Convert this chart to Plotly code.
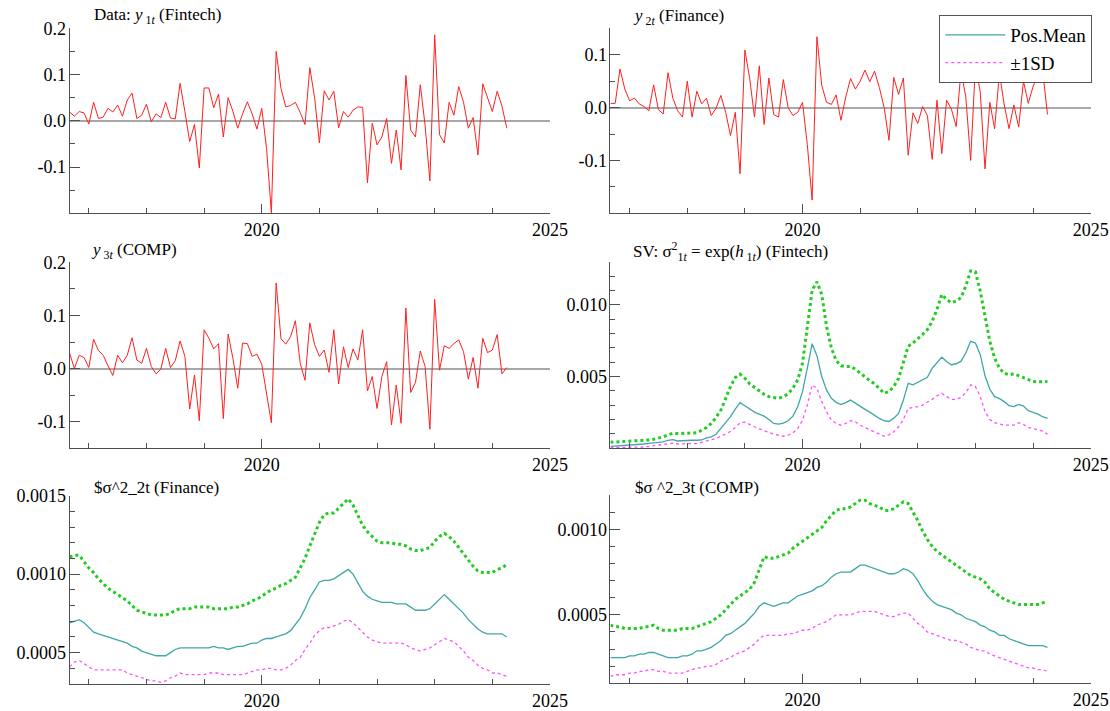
import numpy as np
import pandas as pd
import plotly.graph_objects as go

# ---------------- data (monthly, 2016M9 .. 2024M4) ----------------
months = pd.period_range("2016-09", "2024-04", freq="M")
t = [p.year + (p.month - 1) / 12 for p in months]

y1_fintech = [0.019, 0.010, 0.020, 0.017, -0.007, 0.040, 0.005, 0.008, 0.027, 0.019,
              0.034, 0.010, 0.045, 0.060, 0.005, 0.012, 0.036, -0.002, 0.015, 0.007,
              0.040, 0.006, 0.004, 0.081, 0.020, -0.045, -0.008, -0.102, 0.071, 0.071,
              0.028, 0.058, -0.035, 0.050, 0.020, -0.016, 0.015, 0.041, 0.015, -0.018,
              0.027, -0.060, -0.199, 0.150, 0.070, 0.030, 0.033, 0.040, 0.018, -0.008,
              0.115, 0.050, -0.048, 0.065, 0.045, 0.064, -0.015, 0.020, 0.008, 0.023,
              0.030, 0.029, -0.134, -0.005, -0.052, -0.035, 0.005, -0.092, -0.020, -0.106,
              0.098, -0.020, -0.035, 0.078, -0.010, -0.130, 0.186, -0.030, -0.048, 0.040,
              0.012, 0.074, 0.040, -0.016, 0.007, -0.074, 0.080, 0.052, 0.020, 0.064,
              0.032, -0.016]

y2_finance = [0.008, 0.008, 0.073, 0.035, 0.013, 0.018, 0.007, 0.002, -0.006, 0.043,
              -0.004, -0.012, 0.066, 0.018, -0.006, -0.018, 0.050, -0.018, 0.031, 0.007,
              0.018, -0.015, -0.001, 0.023, -0.009, -0.053, -0.009, -0.125, 0.109, 0.055,
              -0.018, 0.079, -0.032, 0.056, -0.013, -0.018, 0.053, 0.000, -0.015, -0.009,
              0.010, -0.070, -0.175, 0.134, 0.042, 0.010, 0.006, 0.024, -0.024, 0.020,
              0.055, 0.035, 0.050, 0.071, 0.049, 0.069, 0.038, 0.000, -0.062, 0.057,
              0.025, 0.056, -0.090, -0.010, -0.030, 0.002, -0.015, -0.098, 0.014, -0.087,
              0.014, -0.003, -0.036, 0.070, 0.020, -0.100, 0.080, 0.030, -0.116, 0.010,
              -0.040, 0.065, 0.005, -0.040, 0.005, -0.037, 0.050, 0.008, 0.040, 0.060,
              0.070, -0.013]

y3_comp = [0.029, 0.000, 0.025, 0.021, 0.002, 0.055, 0.034, 0.025, 0.005, -0.013,
           0.025, 0.011, 0.025, 0.058, 0.016, 0.010, 0.038, 0.004, -0.010, -0.001,
           0.038, 0.002, 0.015, 0.052, 0.023, -0.076, -0.012, -0.098, 0.073, 0.057,
           0.037, 0.047, -0.094, 0.065, 0.019, -0.037, 0.048, 0.047, 0.023, 0.027,
           0.008, -0.047, -0.102, 0.161, 0.056, 0.046, 0.060, 0.090, 0.010, -0.022,
           0.086, 0.045, 0.023, 0.035, -0.007, 0.073, -0.029, 0.041, 0.002, 0.037,
           0.016, 0.073, -0.042, -0.015, -0.075, -0.015, 0.013, -0.106, -0.031, -0.103,
           0.114, -0.045, -0.026, 0.033, 0.004, -0.114, 0.130, -0.003, 0.043, 0.038,
           0.047, 0.054, 0.032, -0.020, 0.021, -0.037, 0.057, 0.030, 0.035, 0.064,
           -0.010, 0.002]

sv1_mean = [0.00014, 0.00016, 0.00019, 0.00021, 0.00021, 0.00023, 0.00026, 0.00030, 0.00035, 0.00037,
            0.00040, 0.00044, 0.00056, 0.00061, 0.00051, 0.00054, 0.00056, 0.00056, 0.00056, 0.00058,
            0.00073, 0.00080, 0.00098, 0.00138, 0.00178, 0.00220, 0.00273, 0.00318, 0.00297, 0.00273,
            0.00252, 0.00238, 0.00224, 0.00201, 0.00173, 0.00168, 0.00175, 0.00192, 0.00224, 0.00290,
            0.00395, 0.00558, 0.00729, 0.00645, 0.00500, 0.00407, 0.00348, 0.00320, 0.00304, 0.00318,
            0.00336, 0.00315, 0.00290, 0.00271, 0.00252, 0.00229, 0.00208, 0.00192, 0.00187, 0.00210,
            0.00243, 0.00336, 0.00453, 0.00442, 0.00460, 0.00477, 0.00495, 0.00558, 0.00598, 0.00635,
            0.00605, 0.00582, 0.00589, 0.00607, 0.00664, 0.00745, 0.00734, 0.00652, 0.00505, 0.00411,
            0.00360, 0.00346, 0.00325, 0.00297, 0.00290, 0.00306, 0.00294, 0.00262, 0.00250, 0.00238,
            0.00220, 0.00208]
sv1_upper = [0.00042, 0.00044, 0.00044, 0.00047, 0.00049, 0.00049, 0.00051, 0.00054, 0.00058, 0.00063,
             0.00070, 0.00080, 0.00094, 0.00105, 0.00103, 0.00105, 0.00105, 0.00108, 0.00108, 0.00126,
             0.00145, 0.00173, 0.00215, 0.00266, 0.00348, 0.00430, 0.00493, 0.00516, 0.00488, 0.00449,
             0.00425, 0.00402, 0.00376, 0.00360, 0.00353, 0.00348, 0.00360, 0.00379, 0.00418, 0.00477,
             0.00593, 0.00862, 0.01100, 0.01160, 0.01072, 0.00850, 0.00699, 0.00612, 0.00575, 0.00570,
             0.00570, 0.00551, 0.00523, 0.00500, 0.00472, 0.00449, 0.00418, 0.00383, 0.00395, 0.00430,
             0.00488, 0.00593, 0.00710, 0.00734, 0.00762, 0.00794, 0.00827, 0.00885, 0.00967, 0.01072,
             0.01037, 0.01014, 0.01026, 0.01049, 0.01131, 0.01236, 0.01229, 0.01096, 0.00920, 0.00745,
             0.00628, 0.00558, 0.00523, 0.00512, 0.00519, 0.00505, 0.00495, 0.00477, 0.00465, 0.00463,
             0.00463, 0.00465]
sv1_lower = [0.00005, 0.00005, 0.00007, 0.00007, 0.00007, 0.00009, 0.00009, 0.00009, 0.00014, 0.00019,
             0.00023, 0.00028, 0.00033, 0.00035, 0.00030, 0.00033, 0.00033, 0.00033, 0.00033, 0.00042,
             0.00049, 0.00056, 0.00068, 0.00084, 0.00098, 0.00117, 0.00145, 0.00178, 0.00182, 0.00164,
             0.00150, 0.00136, 0.00122, 0.00110, 0.00098, 0.00091, 0.00084, 0.00091, 0.00108, 0.00138,
             0.00196, 0.00301, 0.00442, 0.00418, 0.00325, 0.00255, 0.00196, 0.00173, 0.00161, 0.00173,
             0.00192, 0.00185, 0.00161, 0.00145, 0.00131, 0.00115, 0.00098, 0.00084, 0.00094, 0.00115,
             0.00150, 0.00201, 0.00278, 0.00283, 0.00290, 0.00301, 0.00320, 0.00341, 0.00365, 0.00383,
             0.00360, 0.00341, 0.00341, 0.00355, 0.00388, 0.00442, 0.00430, 0.00360, 0.00255, 0.00201,
             0.00178, 0.00168, 0.00161, 0.00161, 0.00161, 0.00178, 0.00166, 0.00145, 0.00138, 0.00131,
             0.00119, 0.00098]

sv2_mean = [0.00069, 0.00070, 0.00071, 0.00069, 0.00066, 0.00063, 0.00062, 0.00061, 0.00060, 0.00059,
            0.00058, 0.00057, 0.00056, 0.00054, 0.00053, 0.00051, 0.00050, 0.00049, 0.00048, 0.00048,
            0.00048, 0.00050, 0.00052, 0.00053, 0.00053, 0.00053, 0.00053, 0.00053, 0.00053, 0.00053,
            0.00054, 0.00053, 0.00053, 0.00052, 0.00053, 0.00054, 0.00054, 0.00055, 0.00056, 0.00056,
            0.00058, 0.00059, 0.00059, 0.00060, 0.00061, 0.00062, 0.00064, 0.00068, 0.00072, 0.00078,
            0.00085, 0.00090, 0.00095, 0.00096, 0.00096, 0.00097, 0.00099, 0.00101, 0.00103, 0.00100,
            0.00094, 0.00089, 0.00086, 0.00084, 0.00083, 0.00082, 0.00082, 0.00082, 0.00081, 0.00081,
            0.00081, 0.00079, 0.00077, 0.00077, 0.00077, 0.00078, 0.00081, 0.00084, 0.00087, 0.00084,
            0.00081, 0.00078, 0.00075, 0.00071, 0.00068, 0.00065, 0.00063, 0.00062, 0.00062, 0.00062,
            0.00062, 0.00060]
sv2_upper = [0.00111, 0.00112, 0.00112, 0.00108, 0.00104, 0.00101, 0.00097, 0.00094, 0.00091, 0.00089,
             0.00087, 0.00085, 0.00083, 0.00080, 0.00077, 0.00076, 0.00075, 0.00074, 0.00074, 0.00074,
             0.00074, 0.00075, 0.00077, 0.00078, 0.00078, 0.00078, 0.00079, 0.00079, 0.00079, 0.00079,
             0.00078, 0.00078, 0.00078, 0.00078, 0.00079, 0.00079, 0.00080, 0.00081, 0.00083, 0.00084,
             0.00086, 0.00088, 0.00090, 0.00091, 0.00093, 0.00094, 0.00096, 0.00098, 0.00104, 0.00110,
             0.00118, 0.00126, 0.00133, 0.00138, 0.00139, 0.00139, 0.00142, 0.00145, 0.00148, 0.00144,
             0.00137, 0.00131, 0.00127, 0.00124, 0.00121, 0.00120, 0.00120, 0.00120, 0.00119, 0.00119,
             0.00118, 0.00116, 0.00115, 0.00115, 0.00116, 0.00117, 0.00121, 0.00124, 0.00126, 0.00124,
             0.00121, 0.00117, 0.00113, 0.00109, 0.00105, 0.00102, 0.00101, 0.00101, 0.00101, 0.00103,
             0.00104, 0.00106]
sv2_lower = [0.00041, 0.00044, 0.00045, 0.00043, 0.00041, 0.00039, 0.00039, 0.00039, 0.00039, 0.00039,
             0.00039, 0.00039, 0.00037, 0.00036, 0.00035, 0.00034, 0.00033, 0.00032, 0.00032, 0.00031,
             0.00032, 0.00034, 0.00035, 0.00037, 0.00036, 0.00036, 0.00036, 0.00036, 0.00036, 0.00037,
             0.00037, 0.00037, 0.00036, 0.00036, 0.00036, 0.00036, 0.00036, 0.00037, 0.00038, 0.00039,
             0.00039, 0.00040, 0.00040, 0.00039, 0.00039, 0.00040, 0.00042, 0.00045, 0.00047, 0.00052,
             0.00056, 0.00061, 0.00064, 0.00066, 0.00066, 0.00067, 0.00068, 0.00070, 0.00071, 0.00069,
             0.00066, 0.00063, 0.00060, 0.00058, 0.00057, 0.00056, 0.00056, 0.00056, 0.00056, 0.00056,
             0.00055, 0.00053, 0.00052, 0.00051, 0.00052, 0.00053, 0.00055, 0.00057, 0.00059, 0.00058,
             0.00057, 0.00054, 0.00051, 0.00047, 0.00045, 0.00042, 0.00040, 0.00039, 0.00037, 0.00037,
             0.00036, 0.00035]

sv3_mean = [0.00025, 0.00025, 0.00025, 0.00025, 0.00026, 0.00026, 0.00027, 0.00027, 0.00028, 0.00028,
            0.00027, 0.00026, 0.00025, 0.00025, 0.00025, 0.00026, 0.00026, 0.00027, 0.00029, 0.00029,
            0.00030, 0.00031, 0.00033, 0.00035, 0.00038, 0.00039, 0.00041, 0.00043, 0.00045, 0.00048,
            0.00051, 0.00055, 0.00057, 0.00056, 0.00055, 0.00056, 0.00057, 0.00057, 0.00059, 0.00061,
            0.00062, 0.00063, 0.00064, 0.00066, 0.00067, 0.00069, 0.00072, 0.00074, 0.00075, 0.00075,
            0.00075, 0.00077, 0.00079, 0.00079, 0.00078, 0.00077, 0.00076, 0.00075, 0.00074, 0.00074,
            0.00075, 0.00077, 0.00076, 0.00074, 0.00070, 0.00065, 0.00061, 0.00058, 0.00056, 0.00055,
            0.00054, 0.00053, 0.00051, 0.00050, 0.00048, 0.00047, 0.00046, 0.00044, 0.00043, 0.00041,
            0.00040, 0.00038, 0.00038, 0.00036, 0.00035, 0.00034, 0.00033, 0.00032, 0.00032, 0.00032,
            0.00032, 0.00031]
sv3_upper = [0.00044, 0.00043, 0.00043, 0.00042, 0.00042, 0.00042, 0.00042, 0.00043, 0.00043, 0.00044,
             0.00042, 0.00041, 0.00041, 0.00041, 0.00041, 0.00042, 0.00042, 0.00042, 0.00043, 0.00044,
             0.00045, 0.00046, 0.00048, 0.00050, 0.00053, 0.00056, 0.00059, 0.00061, 0.00063, 0.00065,
             0.00069, 0.00076, 0.00084, 0.00083, 0.00083, 0.00084, 0.00085, 0.00086, 0.00089, 0.00091,
             0.00093, 0.00095, 0.00097, 0.00099, 0.00101, 0.00105, 0.00108, 0.00111, 0.00112, 0.00112,
             0.00113, 0.00115, 0.00117, 0.00117, 0.00115, 0.00114, 0.00113, 0.00111, 0.00111, 0.00112,
             0.00114, 0.00116, 0.00115, 0.00110, 0.00105, 0.00099, 0.00094, 0.00090, 0.00087, 0.00085,
             0.00083, 0.00081, 0.00079, 0.00077, 0.00075, 0.00073, 0.00072, 0.00071, 0.00069, 0.00065,
             0.00063, 0.00061, 0.00059, 0.00058, 0.00057, 0.00056, 0.00056, 0.00056, 0.00056, 0.00056,
             0.00057, 0.00058]
sv3_lower = [0.00014, 0.00015, 0.00015, 0.00015, 0.00016, 0.00016, 0.00017, 0.00017, 0.00018, 0.00018,
             0.00017, 0.00017, 0.00016, 0.00016, 0.00016, 0.00016, 0.00017, 0.00018, 0.00019, 0.00019,
             0.00020, 0.00020, 0.00021, 0.00023, 0.00024, 0.00025, 0.00027, 0.00028, 0.00029, 0.00031,
             0.00033, 0.00036, 0.00038, 0.00038, 0.00038, 0.00038, 0.00038, 0.00039, 0.00039, 0.00040,
             0.00041, 0.00041, 0.00042, 0.00044, 0.00045, 0.00046, 0.00048, 0.00050, 0.00050, 0.00050,
             0.00050, 0.00051, 0.00052, 0.00052, 0.00052, 0.00052, 0.00051, 0.00050, 0.00049, 0.00049,
             0.00050, 0.00051, 0.00051, 0.00048, 0.00045, 0.00043, 0.00040, 0.00039, 0.00038, 0.00037,
             0.00036, 0.00035, 0.00035, 0.00034, 0.00033, 0.00031, 0.00030, 0.00029, 0.00029, 0.00027,
             0.00026, 0.00025, 0.00024, 0.00023, 0.00022, 0.00021, 0.00020, 0.00019, 0.00019, 0.00018,
             0.00018, 0.00017]

x_ticks = [2020, 2025]
x_minor = [2017, 2018, 2019, 2021, 2022, 2023, 2024]

# ---------------- styling ----------------
W, H = 1110, 711
FONT = "Liberation Serif, Times New Roman, serif"
RED = "#FF1F1F"
TEAL = "#40A6A6"
GREEN = "#22CC22"
MAGENTA = "#FF50FF"
AXIS = "#505050"
ZERO = "#A8A8A8"
LABEL_SHIFT = -3.5  # px offset of the label-only axis relative to the drawn axis line


def xd(a, b):
    return [a / W, b / W]


def yd(top, bottom):
    return [1 - bottom / H, 1 - top / H]


LEFT = xd(69.6, 550.0)
RIGHT = xd(610.4, 1090.7)

panels = [
    # (xdomain, ydomain, yrange, major ticks, tick text, minor ticks, zeroline)
    (LEFT, yd(28.3, 213.3), [-0.2, 0.2], [-0.1, 0.0, 0.1, 0.2], ["-0.1", "0.0", "0.1", "0.2"],
     [-0.15, -0.05, 0.05, 0.15], True),
    (RIGHT, yd(28.3, 213.3), [-0.2, 0.15], [-0.1, 0.0, 0.1], ["-0.1", "0.0", "0.1"],
     [-0.15, -0.05, 0.05], True),
    (LEFT, yd(262.3, 448.3), [-0.15, 0.2], [-0.1, 0.0, 0.1, 0.2], ["-0.1", "0.0", "0.1", "0.2"],
     [-0.05, 0.05, 0.15], True),
    (RIGHT, yd(261.7, 448.3), [0.0, 0.013], [0.005, 0.010], ["0.005", "0.010"],
     [round(v * 0.001, 4) for v in range(1, 14) if v % 5], False),
    (LEFT, yd(495.7, 684.0), [0.0003, 0.0015], [0.0005, 0.0010, 0.0015], ["0.0005", "0.0010", "0.0015"],
     [round(v * 0.0001, 5) for v in range(4, 15) if v % 5], False),
    (RIGHT, yd(495.0, 683.3), [0.0001, 0.0012], [0.0005, 0.0010], ["0.0005", "0.0010"],
     [round(v * 0.0001, 5) for v in range(2, 13) if v % 5], False),
]

fig = go.Figure()

layout = dict(
    width=W, height=H,
    margin=dict(l=0, r=0, t=0, b=0, pad=0, autoexpand=False),
    paper_bgcolor="white", plot_bgcolor="white",
    font=dict(family=FONT, size=18, color="black"),
    showlegend=True,
)

tickfont = dict(family=FONT, size=18, color="black")
for k, (xdom, ydom, yr, tv, tt, mv, zl) in enumerate(panels, start=1):
    sx = "" if k == 1 else str(k)
    layout["xaxis" + sx] = dict(
        domain=xdom, anchor="y" + sx, range=[t[0], 2025.0],
        tickmode="array", tickvals=x_ticks, ticktext=[str(v) for v in x_ticks],
        ticks="inside", ticklen=9, tickwidth=1, tickcolor=AXIS,
        showline=True, linecolor=AXIS, linewidth=1, mirror=False,
        showgrid=False, zeroline=False, tickfont=tickfont, automargin=False,
        minor=dict(tickmode="array", tickvals=x_minor, ticks="inside", ticklen=5,
                   tickwidth=1, tickcolor=AXIS, showgrid=False),
        fixedrange=True,
    )
    # axis line + ticks (labels drawn by the overlaid label axis below)
    layout["yaxis" + sx] = dict(
        domain=ydom, anchor="x" + sx, range=yr,
        tickmode="array", tickvals=tv, showticklabels=False,
        ticks="inside", ticklen=10, tickwidth=1, tickcolor=AXIS,
        showline=True, linecolor=AXIS, linewidth=1,
        showgrid=False, zeroline=zl, zerolinecolor=ZERO, zerolinewidth=1.5,
        automargin=False,
        minor=dict(tickmode="array", tickvals=mv, ticks="inside", ticklen=5,
                   tickwidth=1, tickcolor=AXIS, showgrid=False),
        fixedrange=True,
    )
    # label axis: same scale, placed so labels sit ~5 px left of the axis line
    layout["yaxis" + str(k + 6)] = dict(
        overlaying="y" + sx, anchor="free", position=xdom[0] + LABEL_SHIFT / W,
        range=yr, tickmode="array", tickvals=tv, ticktext=tt,
        ticks="", showline=False, showgrid=False, zeroline=False,
        tickfont=tickfont, automargin=False, fixedrange=True,
    )

# data panels
for k, series in [(1, y1_fintech), (2, y2_finance), (3, y3_comp)]:
    sx = "" if k == 1 else str(k)
    fig.add_trace(go.Scatter(x=t, y=series, mode="lines", xaxis="x" + sx, yaxis="y" + sx,
                             line=dict(color=RED, width=1), showlegend=False))
    fig.add_trace(go.Scatter(x=t, y=series, mode="lines", xaxis="x" + sx, yaxis="y" + str(k + 6),
                             line=dict(color=RED, width=0), opacity=0, showlegend=False,
                             hoverinfo="skip"))

# SV panels
for k, (mean, up, lo) in [(4, (sv1_mean, sv1_upper, sv1_lower)),
                          (5, (sv2_mean, sv2_upper, sv2_lower)),
                          (6, (sv3_mean, sv3_upper, sv3_lower))]:
    sx = str(k)
    first = k == 4
    fig.add_trace(go.Scatter(x=t, y=up, mode="lines", xaxis="x" + sx, yaxis="y" + sx,
                             line=dict(color=GREEN, width=3, dash="dot"), showlegend=False))
    fig.add_trace(go.Scatter(x=t, y=mean, mode="lines", xaxis="x" + sx, yaxis="y" + sx,
                             line=dict(color=TEAL, width=1.3), name="Pos.Mean",
                             showlegend=first, legendrank=1))
    fig.add_trace(go.Scatter(x=t, y=lo, mode="lines", xaxis="x" + sx, yaxis="y" + sx,
                             line=dict(color=MAGENTA, width=1.3, dash="dot"), name="±1SD",
                             showlegend=first, legendrank=2))
    fig.add_trace(go.Scatter(x=t, y=mean, mode="lines", xaxis="x" + sx, yaxis="y" + str(k + 6),
                             line=dict(color=TEAL, width=0), opacity=0, showlegend=False,
                             hoverinfo="skip"))

layout["legend"] = dict(
    x=1092.3 / W, xanchor="right", y=1 - 15 / H, yanchor="top",
    bgcolor="white", bordercolor="#555555", borderwidth=1,
    font=dict(family=FONT, size=19, color="black"),
    itemwidth=60, tracegroupgap=0,
)

titles = [
    (92, 16, "Data: <i>y</i><sub> 1<i>t</i></sub> (Fintech)"),
    (631, 17, "<i>y</i><sub> 2<i>t</i></sub> (Finance)"),
    (89, 251, "<i>y</i><sub> 3<i>t</i></sub> (COMP)"),
    (631, 251, "SV: σ<sup>2</sup><sub>1<i>t</i></sub> = exp(<i>h</i><sub> 1<i>t</i></sub>) (Fintech)"),
    (92, 487, "$σ^2_2t (Finance)"),
    (633, 487, "$σ ^2_3t (COMP)"),
]
layout["annotations"] = [
    dict(x=px / W, y=1 - py / H, xref="paper", yref="paper", xanchor="left", yanchor="middle",
         text=txt, showarrow=False, font=dict(family=FONT, size=17, color="black"))
    for px, py, txt in titles
]

fig.update_layout(**layout)
fig.write_html("out.html")
